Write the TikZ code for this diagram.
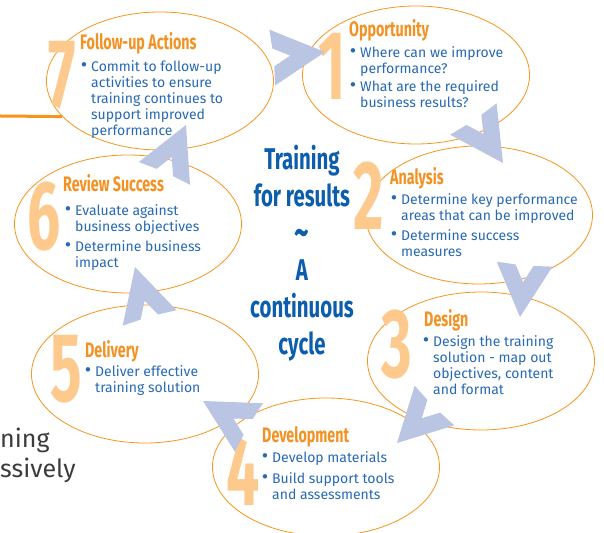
\documentclass[tikz,border=0pt]{standalone}
\usepackage{fontspec}
\setmainfont{Fira Sans}
\newfontfamily\headfont[FakeStretch=0.68]{Fira Sans}
\newfontfamily\numfont[FakeStretch=0.6]{Fira Sans}
\usetikzlibrary{shapes.geometric}
\definecolor{ringline}{HTML}{F7941D}
\definecolor{headorange}{HTML}{F39122}
\definecolor{numorange}{HTML}{FDC98C}
\definecolor{bodyblue}{HTML}{2769B3}
\definecolor{midblue}{HTML}{0C5DAB}
\definecolor{chevfill}{HTML}{BAC4E3}
\definecolor{sidegray}{HTML}{3C3C3C}
\tikzset{
  stage/.style={ellipse, draw=ringline, line width=0.8pt, minimum width=227pt, minimum height=138pt, inner sep=0pt},
  bignum/.style={anchor=base, text=numorange, inner sep=0pt, font=\numfont\bfseries\fontsize{98}{98}\selectfont},
  stagehead/.style={anchor=base west, text=headorange, inner sep=0pt, font=\headfont\bfseries\fontsize{21}{21}\selectfont},
  pointtext/.style={anchor=base west, text=bodyblue, align=left, inner sep=0pt, font=\fontsize{14}{16}\selectfont},
  chev/.pic={\fill[chevfill] (0,0) -- (-53,28) -- (-52,9) -- (-35,0) -- (-52,-9) -- (-53,-28) -- cycle;}
}
\newcommand{\bul}{\llap{\scalebox{1.4}{\textbullet}\hspace{4pt}}}
\begin{document}
\begin{tikzpicture}[x=1pt,y=1pt]
  \useasboundingbox (0,0) rectangle (604,532);
  % the seven stages
  \node[stage] (e7) at (160,451) {};
  \node[stage] (e1) at (416,457) {};
  \node[stage] (e2) at (479,317) {};
  \node[stage] (e3) at (481,171) {};
  \node[stage] (e4) at (326,65) {};
  \node[stage] (e5) at (145,158) {};
  \node[stage] (e6) at (128,308) {};
  \coordinate (lend) at (0,416);
  \draw[ringline, line width=3pt] (lend) -- (e7.200);
  \node[anchor=base west, inner sep=0pt, text=sidegray, font=\fontsize{25}{25}\selectfont] (side1) at (0,84) {ning};
  \node[anchor=base west, inner sep=0pt, text=sidegray, font=\fontsize{25}{25}\selectfont] (side2) at (0,54) {ssively};
  % numbers
  \node[bignum] (n7) at (62,424) {7};
  \node[bignum] (n1) at (332,432) {1};
  \node[bignum] (n2) at (369,302) {2};
  \node[bignum] (n3) at (397,154) {3};
  \node[bignum] (n4) at (243,27) {4};
  \node[bignum] (n5) at (66,130) {5};
  \node[bignum] (n6) at (44,282) {6};
  % arrows between stages
  \pic[rotate=6] at (325,480) {chev};
  \pic[rotate=-56] at (503,369) {chev};
  \pic[rotate=-95] at (520,215) {chev};
  \pic[rotate=-135] at (397,89) {chev};
  \pic[rotate=150] at (203,131) {chev};
  \pic[rotate=106] at (135,265) {chev};
  \pic[rotate=66] at (186,407) {chev};
  % texts (base = last line)
  \node[stagehead] (h7) at (80,482) {Follow-up Actions};
  \node[pointtext] (p7) at (91,396) {\bul Commit to follow-up\\activities to ensure\\training continues to\\support improved\\performance};
  \node[stagehead] (h1) at (349,495) {Opportunity};
  \node[pointtext] (p1a) at (360,458) {\bul Where can we improve\\performance?};
  \node[pointtext] (p1b) at (360,424) {\bul What are the required\\business results?};
  \node[stagehead] (h2) at (390,347) {Analysis};
  \node[pointtext] (p2a) at (401,311) {\bul Determine key performance\\areas that can be improved};
  \node[pointtext] (p2b) at (401,275) {\bul Determine success\\measures};
  \node[stagehead] (h3) at (424,205) {Design};
  \node[pointtext] (p3) at (433,137) {\bul Design the training\\solution - map out\\objectives, content\\and format};
  \node[stagehead] (h4) at (262,89) {Development};
  \node[pointtext] (p4a) at (272,69) {\bul Develop materials};
  \node[pointtext] (p4b) at (272,33) {\bul Build support tools\\and assessments};
  \node[stagehead] (h5) at (85,174) {Delivery};
  \node[pointtext] (p5) at (95,139) {\bul Deliver effective\\training solution};
  \node[stagehead] (h6) at (63,340) {Review Success};
  \node[pointtext] (p6a) at (75,300) {\bul Evaluate against\\business objectives};
  \node[pointtext] (p6b) at (75,264) {\bul Determine business\\impact};
  \node[anchor=base, align=center, inner sep=0pt, text=midblue, font=\headfont\bfseries\fontsize{30}{37}\selectfont] (motto) at (302,177) {Training\\for results\\\raisebox{-3pt}{\scalebox{1.4}{\textasciitilde}}\\A\\continuous\\cycle};
\end{tikzpicture}
\end{document}
